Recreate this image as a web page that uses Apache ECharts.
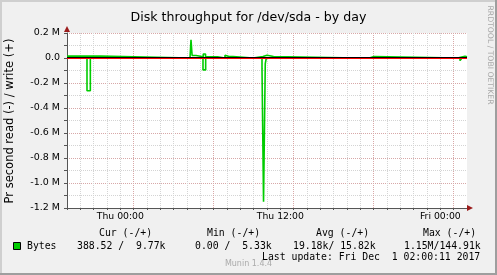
<!DOCTYPE html>
<html><head><meta charset="utf-8">
<script src="https://cdn.jsdelivr.net/npm/echarts@6/dist/echarts.min.js"></script>
<style>html,body{margin:0;padding:0;background:#f0f0f0}#c{width:497px;height:275px}</style>
</head><body><div id="c"></div>
<script>
// Time in hours since Wed 20:00 (graph start); values in bytes/second (step series, change points)
const writeHours = [0, 1.083, 1.167, 2.5, 9.225, 9.3, 9.383, 9.675, 10.22, 10.39, 10.875, 11.025, 11.29,
  11.85, 12.0, 12.15, 12.3, 12.45, 13.95, 14.7, 15.0, 15.49, 21.75, 21.9, 22.425, 22.575, 22.67, 23.025,
  29.29, 29.85, 30];
const writeBytes = [15000, 0, 15000, 0, 9000, 145000, 20000, 10000, 32000, 10000, 18000, 10000, 0,
  22000, 12000, 0, 12000, 0, 12000, 22000, 12000, 0, 12000, 0, 12000, 0, 12000, 0,
  14000, 9770, 9770];
const readHours = [0, 1.5, 1.75, 10.2, 10.4, 14.625, 14.74, 14.87, 14.95, 29.475, 29.625, 30];
const readBytes = [0, -262000, 0, -95000, 0, -85000, -1150000, -45000, 0, -21000, -388.52, -388.52];

const xTickHours = [4, 16, 28];
const xTickLabels = ['Thu 00:00', 'Thu 12:00', 'Fri 00:00'];
const yMin = -1.2e6, yMax = 0.2e6, yStep = 0.1e6;

const titleText = 'Disk throughput for /dev/sda - by day';
const yAxisName = 'Pr second read (-) / write (+)';
const seriesName = 'Bytes';
const legendHeaders = ['Cur (-/+)', 'Min (-/+)', 'Avg (-/+)', 'Max (-/+)'];
const legendValues = ['388.52 /  9.77k', '0.00 /  5.33k', '19.18k/ 15.82k', '1.15M/144.91k'];
const lastUpdate = 'Last update: Fri Dec  1 02:00:11 2017';
const version = 'Munin 1.4.4';
const watermark = 'RRDTOOL / TOBI OETIKER';

const GREEN = '#00cc00';
const GRID_GREY = '#d4d4d4', GRID_RED = '#d8a8a8';
const SANS = 'DejaVu Sans', MONO = 'DejaVu Sans Mono';

const zip = (a, b) => a.map((v, i) => [v, b[i]]);
const chart = echarts.init(document.getElementById('c'), null, {renderer: 'canvas'});

const headX = [99, 207, 316, 423];
const valX = [77, 195, 293, 404];
const graphic = [
  {type: 'rect', shape: {x: 0, y: 0, width: 497, height: 2}, style: {fill: '#cfcfcf'}, silent: true},
  {type: 'rect', shape: {x: 0, y: 0, width: 2, height: 275}, style: {fill: '#cfcfcf'}, silent: true},
  {type: 'rect', shape: {x: 0, y: 273, width: 497, height: 2}, style: {fill: '#9e9e9e'}, silent: true},
  {type: 'rect', shape: {x: 495, y: 0, width: 2, height: 275}, style: {fill: '#9e9e9e'}, silent: true},
  {type: 'text', x: 10, y: 121, rotation: Math.PI / 2,
    style: {text: yAxisName, font: '11.5px "' + SANS + '"', fill: '#000', align: 'center', verticalAlign: 'middle'}},
  {type: 'text', x: 490, y: 55, rotation: -Math.PI / 2,
    style: {text: watermark, font: '7.7px "' + SANS + '"', fill: '#aaaaaa', align: 'center', verticalAlign: 'middle'}},
  // axis arrows
  {type: 'polygon', shape: {points: [[64, 32], [70, 32], [67, 26]]}, style: {fill: '#9b1c1c'}, z: 20},
  {type: 'polygon', shape: {points: [[467, 205], [467, 211], [473, 208]]}, style: {fill: '#9b1c1c'}, z: 20},
  // legend
  {type: 'rect', shape: {x: 13.5, y: 242.5, width: 7, height: 7}, style: {fill: GREEN, stroke: '#000', lineWidth: 1}},
  {type: 'text', x: 27, y: 246, style: {text: seriesName, font: '9.8px "' + MONO + '"', fill: '#000', verticalAlign: 'middle'}},
  {type: 'text', x: 262, y: 257.5, style: {text: lastUpdate, font: '9.8px "' + MONO + '"', fill: '#000', verticalAlign: 'middle'}},
  {type: 'text', x: 248.5, y: 264, style: {text: version, font: '8px "' + SANS + '"', fill: '#aaaaaa', align: 'center', verticalAlign: 'middle'}, z: -1}
];
legendHeaders.forEach((t, i) => graphic.push({type: 'text', x: headX[i], y: 233.5,
  style: {text: t, font: '9.8px "' + MONO + '"', fill: '#000', verticalAlign: 'middle'}}));
legendValues.forEach((t, i) => graphic.push({type: 'text', x: valX[i], y: 246,
  style: {text: t, font: '9.8px "' + MONO + '"', fill: '#000', verticalAlign: 'middle'}}));

const option = {
  animation: false,
  backgroundColor: '#f0f0f0',
  title: {text: titleText, left: 'center', top: 6,
    textStyle: {fontFamily: SANS, fontSize: 12.6, fontWeight: 'normal', color: '#000'}},
  grid: {left: 67, top: 33, width: 400, height: 175, show: true, backgroundColor: '#ffffff', borderWidth: 0},
  xAxis: {
    type: 'value', min: 0, max: 30, interval: 1,
    axisLine: {onZero: false, lineStyle: {color: '#555', width: 1}},
    axisTick: {show: true, length: 2, lineStyle: {color: '#555'}},
    axisLabel: {fontFamily: SANS, fontSize: 9.3, color: '#000', margin: 4, showMinLabel: true, showMaxLabel: true,
      formatter: v => { const k = xTickHours.indexOf(Math.round(v)); return k >= 0 ? xTickLabels[k] : ''; }},
    splitLine: {show: true, showMinLine: false, showMaxLine: false,
      lineStyle: {type: [1, 1], width: 1,
        color: [GRID_GREY, GRID_GREY, GRID_GREY, GRID_GREY, GRID_RED, GRID_GREY]}}
  },
  yAxis: {
    type: 'value', min: yMin, max: yMax, interval: yStep,
    axisLine: {show: true, lineStyle: {color: '#555', width: 1}},
    axisTick: {show: true, length: 3, lineStyle: {color: '#555'}},
    axisLabel: {fontFamily: SANS, fontSize: 9.5, color: '#000', margin: 7,
      formatter: v => { const n = Math.round(v / yStep); if (n % 2 !== 0) return ''; if (n === 0) return '0.0';
        return (n / 10).toFixed(1) + ' M'; }},
    splitLine: {show: true, showMinLine: true, showMaxLine: true,
      lineStyle: {type: [1, 1], width: 1, color: [GRID_RED, GRID_GREY]}}
  },
  graphic: graphic,
  series: [
    {name: seriesName, type: 'line', step: 'end', showSymbol: false, symbol: 'none', z: 3,
      lineStyle: {color: GREEN, width: 1.6}, data: zip(writeHours, writeBytes)},
    {name: seriesName, type: 'line', step: 'end', showSymbol: false, symbol: 'none', z: 3,
      lineStyle: {color: GREEN, width: 1.6}, data: zip(readHours, readBytes)},
    {type: 'custom', z: 5, data: [[0, 0]], silent: true,
      renderItem: (params, api) => {
        const s = api.coord([0, 0]), e = api.coord([30, 0]);
        const y = Math.round(s[1]);
        return {type: 'group', children: [
          {type: 'line', shape: {x1: s[0], y1: y - 0.5, x2: e[0], y2: y - 0.5}, style: {stroke: '#000', lineWidth: 1}},
          {type: 'line', shape: {x1: s[0], y1: y + 0.5, x2: e[0], y2: y + 0.5}, style: {stroke: '#ff0000', lineWidth: 1}}
        ]};
      }}
  ]
};
chart.setOption(option);
</script></body></html>
